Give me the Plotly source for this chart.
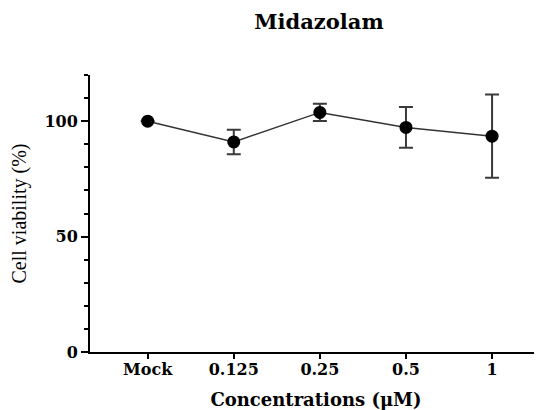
import plotly.graph_objects as go

categories = ["Mock", "0.125", "0.25", "0.5", "1"]
viability = [100, 91, 103.8, 97.3, 93.5]
err = [0, 5.3, 3.7, 8.8, 18]

y_tickvals = [0, 50, 100]
y_ticktext = ["0", "50", "100"]

# the page body adds an 8px offset; figure size compensates so it fills the 542x410 window
W, H = 534, 402

fig = go.Figure()
fig.add_trace(go.Scatter(
    x=categories, y=viability,
    mode="lines+markers",
    line=dict(color="#333333", width=1.5),
    marker=dict(color="black", size=13, symbol="circle"),
    error_y=dict(type="data", array=err, visible=True, color="#3a3a3a", thickness=2, width=7),
    showlegend=False,
))

bold = dict(family="DejaVu Serif", color="black", weight="bold")

fig.update_layout(
    width=W, height=H,
    margin=dict(l=82, r=0, t=67, b=58),
    plot_bgcolor="white", paper_bgcolor="white",
    title=dict(text="Midazolam", x=311/W, xanchor="center", y=1-14/H, yanchor="middle",
               yref="container", font=dict(size=21, **bold)),
    xaxis=dict(
        type="category", range=[-0.67, 4.58],
        showline=True, linecolor="black", linewidth=2,
        ticks="outside", ticklen=5, tickwidth=1.5, tickcolor="black",
        tickfont=dict(size=16, **bold), ticklabelstandoff=-3,
        showgrid=False, zeroline=False,
        title=dict(text="Concentrations (μM)", font=dict(size=18, **bold), standoff=16),
    ),
    yaxis=dict(
        range=[0, 120],
        tickmode="array", tickvals=y_tickvals, ticktext=y_ticktext,
        showline=True, linecolor="black", linewidth=2,
        ticks="outside", ticklen=7, tickwidth=2, tickcolor="black",
        minor=dict(dtick=10, ticks="outside", ticklen=4, tickwidth=1.5, tickcolor="black", showgrid=False),
        tickfont=dict(size=16, **bold),
        showgrid=False, zeroline=False,
        title=dict(text="Cell viability (%)", font=dict(size=20, family="Liberation Serif", color="black"), standoff=12),
    ),
)

fig.write_html("out.html")
